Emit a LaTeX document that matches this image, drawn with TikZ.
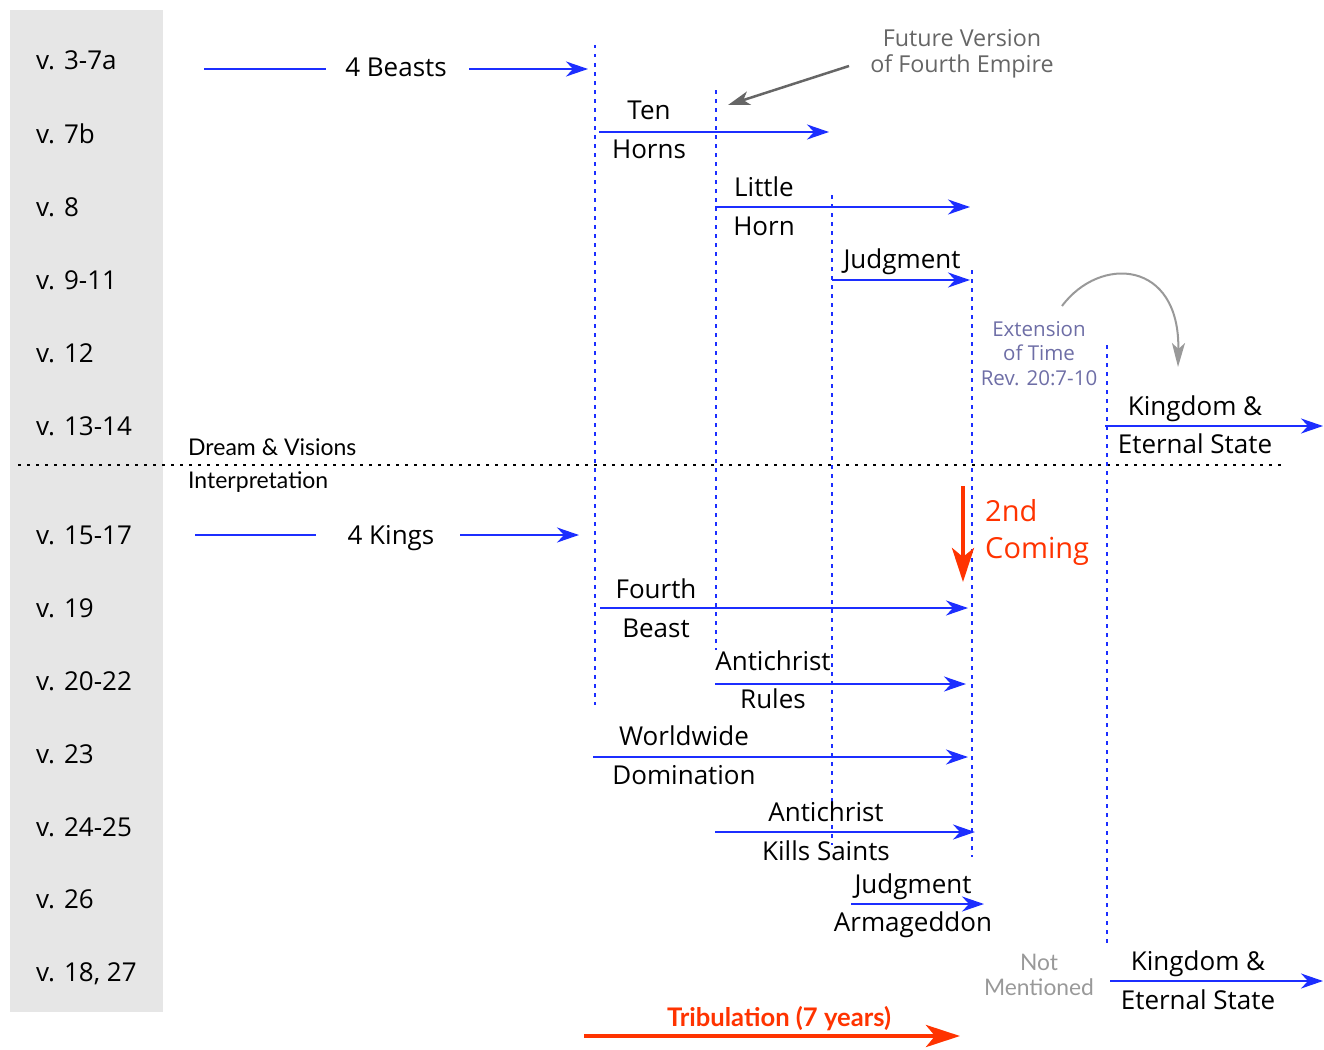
\documentclass[tikz,border=0pt]{standalone}
\usepackage{fontspec}
\setmainfont{Open Sans}
\newfontfamily\latofont{Lato}
\usetikzlibrary{arrows.meta}

\definecolor{bandgray}{RGB}{230,230,230}
\definecolor{lineblue}{RGB}{28,46,255}
\definecolor{comingred}{RGB}{255,51,0}
\definecolor{notegray}{RGB}{102,102,102}
\definecolor{lightgray}{RGB}{153,153,153}
\definecolor{extblue}{RGB}{110,110,166}

\tikzset{
  verse/.style={anchor=base west,inner sep=0pt,font=\fontsize{26}{26}\selectfont},
  lbl/.style={anchor=base,inner sep=0pt,font=\fontsize{26}{26}\selectfont},
  side/.style={anchor=base west,inner sep=0pt,font=\latofont\fontsize{23}{23}\selectfont},
  span/.style={draw=lineblue,line width=2.2pt,-{Stealth[length=22pt,width=15pt,inset=7pt]}},
  lead/.style={draw=lineblue,line width=2.2pt},
  era/.style={draw=lineblue,line width=2.4pt,dash pattern=on 3.5pt off 5.5pt},
  bigred/.style={draw=comingred,line width=4.5pt,-{Stealth[length=34pt,width=22pt,inset=9pt]}},
}

\begin{document}
\begin{tikzpicture}[x=1pt,y=-1pt]
\useasboundingbox (0,0) rectangle (1324,1049);
\fill[bandgray] (10,10) rectangle (163,1012);

% verses
\node[verse] (v1) at (36,70) {v. 3-7a};
\node[verse] (v2) at (36,143) {v. 7b};
\node[verse] (v3) at (36,216) {v. 8};
\node[verse] (v4) at (36,289) {v. 9-11};
\node[verse] (v5) at (36,362) {v. 12};
\node[verse] (v6) at (36,435) {v. 13-14};
\node[verse] (v7) at (36,544) {v. 15-17};
\node[verse] (v8) at (36,617) {v. 19};
\node[verse] (v9) at (36,690) {v. 20-22};
\node[verse] (v10) at (36,763) {v. 23};
\node[verse] (v11) at (36,836) {v. 24-25};
\node[verse] (v12) at (36,908) {v. 26};
\node[verse] (v13) at (36,981) {v. 18, 27};

% dream above, interpretation below
\coordinate (divL) at (18,465);
\coordinate (divR) at (1285,465);
\draw[line width=2pt,dash pattern=on 3pt off 6pt] (divL) -- (divR);
\node[side] (dream) at (188,455) {Dream \& Visions};
\node[side] (interp) at (188,488) {Interpretation};

% eras
\coordinate (e1t) at (595,45);   \coordinate (e1b) at (595,705);
\coordinate (e2t) at (716,90);   \coordinate (e2b) at (716,650);
\coordinate (e3t) at (832,195);  \coordinate (e3b) at (832,845);
\coordinate (e4t) at (972,270);  \coordinate (e4b) at (972,857);
\coordinate (e5t) at (1107,345); \coordinate (e5b) at (1107,945);
\draw[era] (e1t) -- (e1b);
\draw[era] (e2t) -- (e2b);
\draw[era] (e3t) -- (e3b);
\draw[era] (e4t) -- (e4b);
\draw[era] (e5t) -- (e5b);

% four beasts / four kings
\node[lbl] (beasts) at (396,77) {4 Beasts};
\coordinate (beastsA) at (204,69);
\coordinate (beastsB) at (588,69);
\draw[lead] (beastsA) -- (326,69);
\draw[span] (469,69) -- (beastsB);
\node[lbl] (kings) at (391,544) {4 Kings};
\coordinate (kingsA) at (195,535);
\coordinate (kingsB) at (579,535);
\draw[lead] (kingsA) -- (316,535);
\draw[span] (460,535) -- (kingsB);

% dream spans
\coordinate (tenL) at (599,132);   \coordinate (tenR) at (829,132);
\coordinate (littleL) at (715,207); \coordinate (littleR) at (970,207);
\coordinate (judgL) at (832,280);  \coordinate (judgR) at (970,280);
\coordinate (kingL) at (1105,426); \coordinate (kingR) at (1323,426);
\draw[span] (tenL) -- (tenR);
\draw[span] (littleL) -- (littleR);
\draw[span] (judgL) -- (judgR);
\draw[span] (kingL) -- (kingR);
\node[lbl] (ten) at (649,119) {Ten};
\node[lbl] (horns) at (649,158) {Horns};
\node[lbl] (little) at (764,196) {Little};
\node[lbl] (horn) at (764,235) {Horn};
\node[lbl] (judg) at (902,268) {Judgment};
\node[lbl] (king) at (1195,415) {Kingdom \&};
\node[lbl] (state) at (1195,453) {Eternal State};

% interpretation spans
\coordinate (fourL) at (600,608);   \coordinate (fourR) at (968,608);
\coordinate (rulesL) at (715,684);  \coordinate (rulesR) at (966,684);
\coordinate (worldL) at (593,757);  \coordinate (worldR) at (968,757);
\coordinate (killsL) at (715,832);  \coordinate (killsR) at (975,832);
\coordinate (armaL) at (851,904);   \coordinate (armaR) at (984,904);
\coordinate (king2L) at (1110,981); \coordinate (king2R) at (1323,981);
\draw[span] (fourL) -- (fourR);
\draw[span] (rulesL) -- (rulesR);
\draw[span] (worldL) -- (worldR);
\draw[span] (killsL) -- (killsR);
\draw[span] (armaL) -- (armaR);
\draw[span] (king2L) -- (king2R);
\node[lbl] (fourth) at (656,598) {Fourth};
\node[lbl] (beast) at (656,637) {Beast};
\node[lbl] (anti1) at (773,670) {Antichrist};
\node[lbl] (rules) at (773,708) {Rules};
\node[lbl] (world) at (684,745) {Worldwide};
\node[lbl] (domin) at (684,784) {Domination};
\node[lbl] (anti2) at (826,821) {Antichrist};
\node[lbl] (kills) at (826,860) {Kills Saints};
\node[lbl] (judg2) at (913,893) {Judgment};
\node[lbl] (arma) at (913,931) {Armageddon};
\node[lbl] (king2) at (1198,970) {Kingdom \&};
\node[lbl] (state2) at (1198,1009) {Eternal State};

% notes (base is the last line)
\node[anchor=base,inner sep=0pt,align=center,text=notegray,font=\fontsize{23.3}{25}\selectfont] (future) at (962,72) {Future Version\\of Fourth Empire};
\coordinate (futureA) at (849,66);
\coordinate (futureB) at (728,105);
\draw[notegray,line width=2.5pt,-{Stealth[length=22pt,width=14pt,inset=6pt]}] (futureA) -- (futureB);
\node[anchor=base,inner sep=0pt,align=center,text=extblue,font=\fontsize{20.5}{24.5}\selectfont] (ext) at (1039,385) {Extension\\of Time\\Rev. 20:7-10};
\coordinate (extA) at (1062,306);
\coordinate (extB) at (1178,367);
\draw[lightgray,line width=2pt,-{Stealth[length=24pt,width=13pt,inset=6pt]}] (extA) .. controls (1100,255) and (1180,260) .. (extB);
\node[anchor=base,inner sep=0pt,align=center,text=lightgray,font=\latofont\fontsize{22.8}{25}\selectfont] (notm) at (1039,995) {Not\\Mentioned};

% second coming and tribulation
\coordinate (comeA) at (963,486);
\coordinate (comeB) at (963,582);
\draw[bigred] (comeA) -- (comeB);
\node[anchor=base west,inner sep=0pt,align=left,text=comingred,font=\fontsize{29}{37}\selectfont] (come) at (985,558) {2nd\\Coming};
\coordinate (tribA) at (584,1036);
\coordinate (tribB) at (960,1036);
\draw[bigred] (tribA) -- (tribB);
\node[anchor=base,inner sep=0pt,text=comingred,font=\latofont\bfseries\fontsize{25.6}{25.6}\selectfont] (trib) at (779,1026) {Tribulation (7 years)};
\end{tikzpicture}
\end{document}
